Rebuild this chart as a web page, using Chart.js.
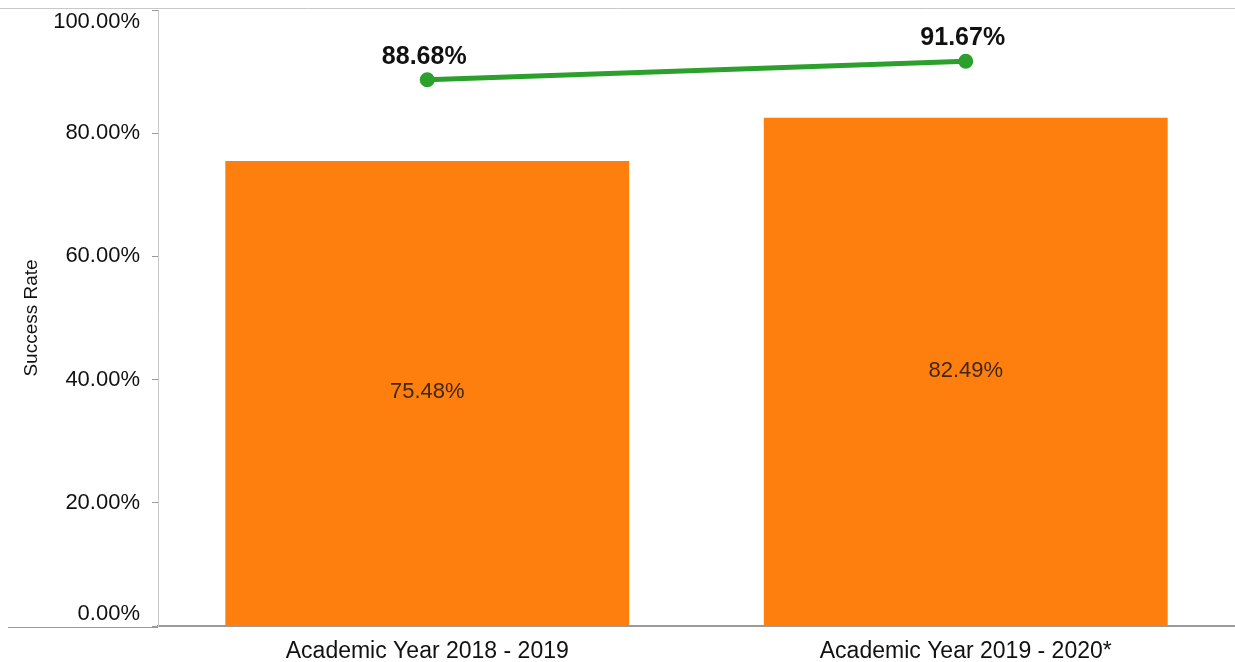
<!DOCTYPE html>
<html>
<head>
<meta charset="utf-8">
<script src="https://cdn.jsdelivr.net/npm/chart.js@4/dist/chart.umd.min.js"></script>
<style>
  html, body { margin: 0; padding: 0; background: #fff; overflow: hidden; }
  #wrap { width: 1235px; height: 662px; position: relative; }
</style>
</head>
<body>
<div id="wrap"><canvas id="myChart"></canvas></div>
<script>
var years = ["Academic Year 2018 - 2019", "Academic Year 2019 - 2020*"];
var barValues = [75.48, 82.49];
var lineValues = [88.68, 91.67];
var yTicks = [0, 20, 40, 60, 80, 100];

var FONT = "'Liberation Sans', Arial, sans-serif";

// draws value labels and the frame lines
var labelPlugin = {
  id: "labels",
  afterDatasetsDraw: function (chart) {
    var ctx = chart.ctx;
    var area = chart.chartArea;
    ctx.save();
    ctx.strokeStyle = "#c8c8c8";
    ctx.lineWidth = 1;
    ctx.beginPath();
    ctx.moveTo(0, 8.5);
    ctx.lineTo(chart.width, 8.5);
    ctx.stroke();
    ctx.strokeStyle = "#9a9a9a";
    ctx.beginPath();
    ctx.moveTo(8, area.bottom + 1.5);
    ctx.lineTo(area.left, area.bottom + 1.5);
    ctx.stroke();

    ctx.textAlign = "center";
    ctx.textBaseline = "middle";
    var bars = chart.getDatasetMeta(1).data;
    ctx.fillStyle = "#40280f";
    ctx.font = "22px " + FONT;
    bars.forEach(function (b, i) {
      ctx.fillText(barValues[i].toFixed(2) + "%", b.x, (b.y + b.base) / 2 - 1);
    });
    var pts = chart.getDatasetMeta(0).data;
    ctx.fillStyle = "#111";
    ctx.font = "bold 25px " + FONT;
    pts.forEach(function (p, i) {
      ctx.fillText(lineValues[i].toFixed(2) + "%", p.x - 3, p.y - 23);
    });
    ctx.restore();
  }
};

new Chart("myChart", {
  data: {
    labels: years,
    datasets: [{
      type: "line",
      data: lineValues,
      borderColor: "#2ca02c",
      backgroundColor: "#2ca02c",
      borderWidth: 5,
      pointRadius: 5,
      pointHoverRadius: 5,
      order: 0
    }, {
      type: "bar",
      data: barValues,
      backgroundColor: "#ff7f0e",
      categoryPercentage: 0.75,
      barPercentage: 1,
      order: 1
    }]
  },
  options: {
    responsive: true,
    maintainAspectRatio: false,
    animation: false,
    layout: { autoPadding: false, padding: { top: 10, right: 0, left: 0, bottom: 0 } },
    plugins: {
      legend: { display: false },
      tooltip: { enabled: false }
    },
    scales: {
      x: {
        afterFit: function (scale) {
          scale.height = 36;
          scale.paddingLeft = 0;
          scale.paddingRight = 0;
        },
        grid: { display: false },
        border: { display: true, color: "#9a9a9a", width: 2 },
        ticks: {
          color: "#111",
          padding: 4,
          maxRotation: 0,
          font: { size: 23, family: FONT }
        }
      },
      y: {
        min: 0,
        max: 100,
        afterFit: function (scale) {
          scale.width = 158;
          scale.paddingTop = 0;
          scale.paddingBottom = 0;
        },
        afterBuildTicks: function (scale) {
          scale.ticks = yTicks.map(function (v) { return { value: v }; });
        },
        grid: { drawOnChartArea: false, drawTicks: true, tickLength: 6, color: "#9a9a9a" },
        border: { display: true, color: "#c8c8c8" },
        ticks: {
          color: "#111",
          padding: 12,
          font: { size: 22, family: FONT, lineHeight: 1.1 },
          callback: function (v) {
            var s = v.toFixed(2) + "%";
            // end labels sit inside the plot, like the original
            if (v === 100) return ["", s];
            if (v === 0) return [s, ""];
            return s;
          }
        },
        title: {
          display: true,
          text: "Success Rate",
          color: "#111",
          padding: { top: 20, bottom: 0 },
          font: { size: 19, family: FONT }
        }
      }
    }
  },
  plugins: [labelPlugin]
});
</script>
</body>
</html>
